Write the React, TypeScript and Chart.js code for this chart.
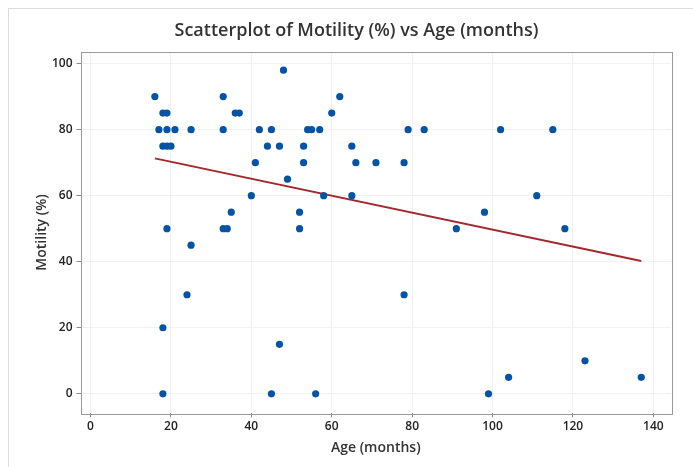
import React, { useEffect, useRef } from "react";
import { Chart, registerables } from "chart.js";

Chart.register(...registerables);

const ages = [16, 17, 18, 19, 19, 21, 25, 18, 19, 20, 19, 18, 18, 24, 25,
  33, 33, 36, 37, 33, 34, 35, 40, 41, 42, 44, 45, 45, 47, 47,
  48, 49, 52, 52, 53, 53, 54, 55, 56, 57, 58, 60, 62, 65, 65, 66, 71, 78, 78, 79, 83,
  91, 98, 99, 102, 104, 111, 115, 118, 123, 137];
const motility = [90, 80, 85, 85, 80, 80, 80, 75, 75, 75, 50, 20, 0, 30, 45,
  90, 80, 85, 85, 50, 50, 55, 60, 70, 80, 75, 80, 0, 75, 15,
  98, 65, 55, 50, 75, 70, 80, 80, 0, 80, 60, 85, 90, 75, 60, 70, 70, 70, 30, 80, 80,
  50, 55, 0, 80, 5, 60, 80, 50, 10, 5];

const fitX = [16, 137];
const fitY = [71.3, 40.2];

const xTicks = [0, 20, 40, 60, 80, 100, 120, 140];
const yTicks = [0, 20, 40, 60, 80, 100];

const TITLE = "Scatterplot of Motility (%) vs Age (months)";
const FONT = "'Open Sans', 'Noto Sans', sans-serif";

export default function App() {
  const ref = useRef<HTMLCanvasElement | null>(null);

  useEffect(() => {
    if (!ref.current) return;
    const frame = {
      id: "plotFrame",
      afterDraw(chart: any) {
        const { ctx, chartArea } = chart;
        ctx.save();
        ctx.strokeStyle = "#9a9a9a";
        ctx.lineWidth = 1;
        ctx.strokeRect(
          Math.round(chartArea.left) + 0.5,
          Math.round(chartArea.top) + 0.5,
          Math.round(chartArea.right - chartArea.left),
          Math.round(chartArea.bottom - chartArea.top)
        );
        ctx.fillStyle = "#333333";
        ctx.font = `600 18px ${FONT}`;
        ctx.textAlign = "center";
        ctx.textBaseline = "middle";
        ctx.fillText(TITLE, 356.5, 31);
        ctx.restore();
      },
    };
    const chart = new Chart(ref.current, {
      type: "scatter",
      data: {
        datasets: [
          {
            type: "line",
            data: fitX.map((x, i) => ({ x, y: fitY[i] })),
            borderColor: "#a3282c",
            borderWidth: 2,
            pointRadius: 0,
            fill: false,
            order: 1,
          } as any,
          {
            data: ages.map((x, i) => ({ x, y: motility[i] })),
            backgroundColor: "#0553a5",
            borderColor: "#0553a5",
            borderWidth: 0,
            pointRadius: 3.6,
            order: 0,
          },
        ],
      },
      plugins: [frame],
      options: {
        animation: false,
        responsive: false,
        layout: { padding: { left: 0, right: 22, top: 51.7, bottom: 0 } },
        plugins: {
          legend: { display: false },
          tooltip: { enabled: false },
          title: { display: false },
        },
        scales: {
          x: {
            type: "linear",
            min: -2.5,
            max: 144.4,
            afterBuildTicks: (s: any) => {
              s.ticks = xTicks.map((v) => ({ value: v }));
            },
            afterFit: (s: any) => {
              s.height = 53.7;
            },
            grid: { color: "#f1f1f1", tickColor: "#8a8a8a", tickLength: 4, drawTicks: true },
            border: { display: false },
            ticks: { color: "#222222", font: { family: FONT, size: 12, weight: "600" as any }, padding: 2, maxRotation: 0 },
            title: {
              display: true,
              text: "Age (months)",
              color: "#333333",
              font: { family: FONT, size: 14, weight: "600" as any, lineHeight: 1.2 },
              padding: { top: 0, bottom: 10.3 },
            },
          },
          y: {
            type: "linear",
            min: -5.9,
            max: 103.6,
            afterBuildTicks: (s: any) => {
              s.ticks = yTicks.map((v) => ({ value: v }));
            },
            afterFit: (s: any) => {
              s.width = 80.5;
            },
            grid: { color: "#f1f1f1", tickColor: "#8a8a8a", tickLength: 4, drawTicks: true },
            border: { display: false },
            ticks: { color: "#222222", font: { family: FONT, size: 12, weight: "600" as any }, padding: 4 },
            title: {
              display: true,
              text: "Motility (%)",
              color: "#333333",
              font: { family: FONT, size: 14, weight: "600" as any, lineHeight: 1.2 },
              padding: { top: 33.6, bottom: 0 },
            },
          },
        },
      },
    });
    return () => chart.destroy();
  }, []);

  return (
    <div>
      <div
        style={{
          position: "fixed",
          left: 8,
          top: 8,
          width: 720,
          height: 500,
          borderTop: "1px solid #dcdcdc",
          borderLeft: "1px solid #dcdcdc",
          background: "#ffffff",
        }}
      />
      <div style={{ position: "fixed", left: 0, top: 0, width: 693, height: 467 }}>
        <canvas ref={ref} width={693} height={467} style={{ width: 693, height: 467 }} />
      </div>
    </div>
  );
}
